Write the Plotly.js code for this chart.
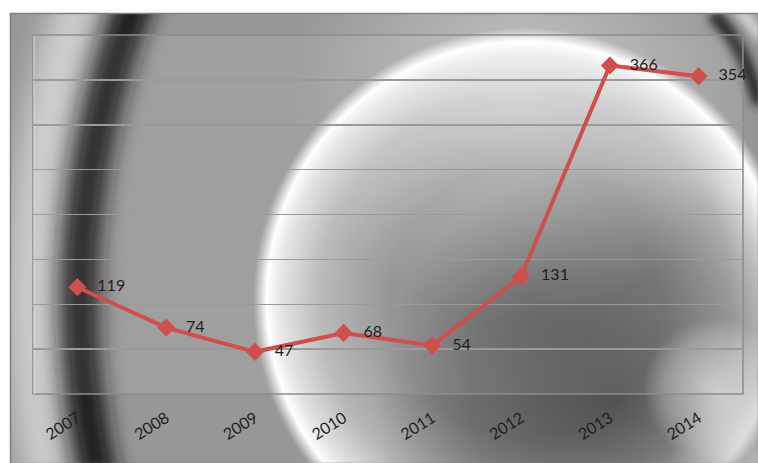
<!DOCTYPE html>
<html>
<head>
<meta charset="utf-8">
<script src="https://cdn.plot.ly/plotly-3.0.1.min.js"></script>
<style>
  html, body { margin: 0; padding: 0; background: #ffffff; }
  #chart { width: 758px; height: 463px; }
</style>
</head>
<body>
<div id="chart"></div>
<script>
// ---- data ----
const years = ['2007', '2008', '2009', '2010', '2011', '2012', '2013', '2014'];
const values = [119, 74, 47, 68, 54, 131, 366, 354];
const labels = values.map(v => String(v));

// ---- background artwork (gradient "metal" look) ----
const W = 758, H = 463;
const M = { l: 33, r: 15, t: 35, b: 69 };
const PW = W - M.l - M.r, PH = H - M.t - M.b;

const svg = `
<svg xmlns="http://www.w3.org/2000/svg" width="${W}" height="${H}" viewBox="0 0 ${W} ${H}" preserveAspectRatio="none">
<defs>
  <clipPath id="frame"><rect x="10" y="13" width="${W-10}" height="${H-13}"/></clipPath>
  <radialGradient id="ring" gradientUnits="userSpaceOnUse" cx="525" cy="300" r="272">
    <stop offset="0" stop-color="#7c7c7c"/>
    <stop offset="0.5" stop-color="#8e8e8e"/>
    <stop offset="0.76" stop-color="#b6b6b6"/>
    <stop offset="0.9" stop-color="#e4e4e4"/>
    <stop offset="0.95" stop-color="#ffffff"/>
    <stop offset="0.985" stop-color="#b4b4b4"/>
    <stop offset="1" stop-color="#979797"/>
  </radialGradient>
  <radialGradient id="shade" gradientUnits="userSpaceOnUse" cx="615" cy="400" r="240">
    <stop offset="0" stop-color="#000" stop-opacity="0.42"/>
    <stop offset="0.6" stop-color="#000" stop-opacity="0.22"/>
    <stop offset="1" stop-color="#000" stop-opacity="0"/>
  </radialGradient>
  <radialGradient id="toplight" gradientUnits="userSpaceOnUse" cx="520" cy="90" r="230">
    <stop offset="0" stop-color="#fff" stop-opacity="0.42"/>
    <stop offset="1" stop-color="#fff" stop-opacity="0"/>
  </radialGradient>
  <radialGradient id="spot" gradientUnits="userSpaceOnUse" cx="715" cy="390" r="72">
    <stop offset="0" stop-color="#fff" stop-opacity="0.55"/>
    <stop offset="0.7" stop-color="#fff" stop-opacity="0.25"/>
    <stop offset="1" stop-color="#fff" stop-opacity="0"/>
  </radialGradient>
  <radialGradient id="spot2" gradientUnits="userSpaceOnUse" cx="758" cy="470" r="90">
    <stop offset="0" stop-color="#fff" stop-opacity="0.5"/>
    <stop offset="1" stop-color="#fff" stop-opacity="0"/>
  </radialGradient>
  <filter id="b10" x="-20%" y="-20%" width="140%" height="140%"><feGaussianBlur stdDeviation="11"/></filter>
  <filter id="b12" x="-20%" y="-20%" width="140%" height="140%"><feGaussianBlur stdDeviation="14"/></filter>
  <filter id="b5" x="-50%" y="-50%" width="200%" height="200%"><feGaussianBlur stdDeviation="5"/></filter>
</defs>
<rect x="0" y="0" width="${W}" height="${H}" fill="#ffffff"/>
<g clip-path="url(#frame)">
  <rect x="0" y="0" width="${W}" height="${H}" fill="url(#ring)"/>
  <rect x="0" y="0" width="${W}" height="${H}" fill="url(#shade)"/>
  <rect x="0" y="0" width="${W}" height="${H}" fill="url(#toplight)"/>
  <circle cx="975" cy="300" r="945" fill="none" stroke="#cdcdcd" stroke-width="44" filter="url(#b12)"/>
  <circle cx="905" cy="300" r="825" fill="none" stroke="#141414" stroke-width="36" filter="url(#b10)"/>
  <path d="M 712 14 Q 742 40 760 105" fill="none" stroke="#2a2a2a" stroke-width="14" filter="url(#b5)"/>
  <path d="M 735 5 Q 752 25 765 40" fill="none" stroke="#dddddd" stroke-width="10" filter="url(#b5)"/>
  <rect x="0" y="0" width="${W}" height="${H}" fill="url(#spot)"/>
  <rect x="0" y="0" width="${W}" height="${H}" fill="url(#spot2)"/>
  <rect x="${M.l}" y="${M.t}" width="${PW}" height="${PH}" fill="#ffffff" fill-opacity="0.08"/>
  <rect x="${M.l}" y="${M.t}" width="${PW}" height="${PH}" fill="none" stroke="#8c8c8c" stroke-width="1.5"/>
  <line x1="${M.l+1}" y1="${M.t+1}" x2="${M.l+1}" y2="${M.t+PH}" stroke="#dcdcdc" stroke-width="1"/>
</g>
<rect x="10.5" y="13.5" width="${W-10}" height="${H-13}" fill="none" stroke="#7f7f7f" stroke-width="1.5"/>
</svg>`;

const bgSrc = 'data:image/svg+xml;charset=utf-8,' + encodeURIComponent(svg);

const trace = {
  type: 'scatter',
  mode: 'lines+markers+text',
  x: years,
  y: values,
  text: labels,
  texttemplate: '\u00a0\u00a0\u2009%{text}',
  textposition: 'middle right',
  textfont: { family: 'Lato, "Open Sans", sans-serif', size: 16, color: '#1e1e1e' },
  line: { color: '#cf4f4c', width: 4 },
  marker: { symbol: 'diamond', size: 14, color: '#cf4f4c', line: { width: 0 } },
  hoverinfo: 'x+y',
  cliponaxis: false
};

const layout = {
  width: W,
  height: H,
  autosize: false,
  margin: M,
  paper_bgcolor: '#ffffff',
  plot_bgcolor: 'rgba(0,0,0,0)',
  showlegend: false,
  xaxis: {
    type: 'category',
    showgrid: false,
    zeroline: false,
    showline: false,
    ticks: '',
    tickangle: -32,
    ticklabelstandoff: 11,
    tickfont: { family: 'Lato, "Open Sans", sans-serif', size: 16, color: '#1e1e1e' },
    range: [-0.5, years.length - 0.5]
  },
  yaxis: {
    range: [0, 400],
    dtick: 50,
    showgrid: true,
    gridcolor: '#9a9a9a',
    gridwidth: 1.5,
    zeroline: false,
    showline: false,
    showticklabels: false,
    ticks: ''
  },
  images: [{
    source: bgSrc,
    xref: 'paper', yref: 'paper',
    x: -M.l / PW, y: 1 + M.t / PH,
    sizex: W / PW, sizey: H / PH,
    xanchor: 'left', yanchor: 'top',
    sizing: 'stretch',
    layer: 'below'
  }]
};

Plotly.newPlot('chart', [trace], layout, { displayModeBar: false, staticPlot: true });
</script>
</body>
</html>
